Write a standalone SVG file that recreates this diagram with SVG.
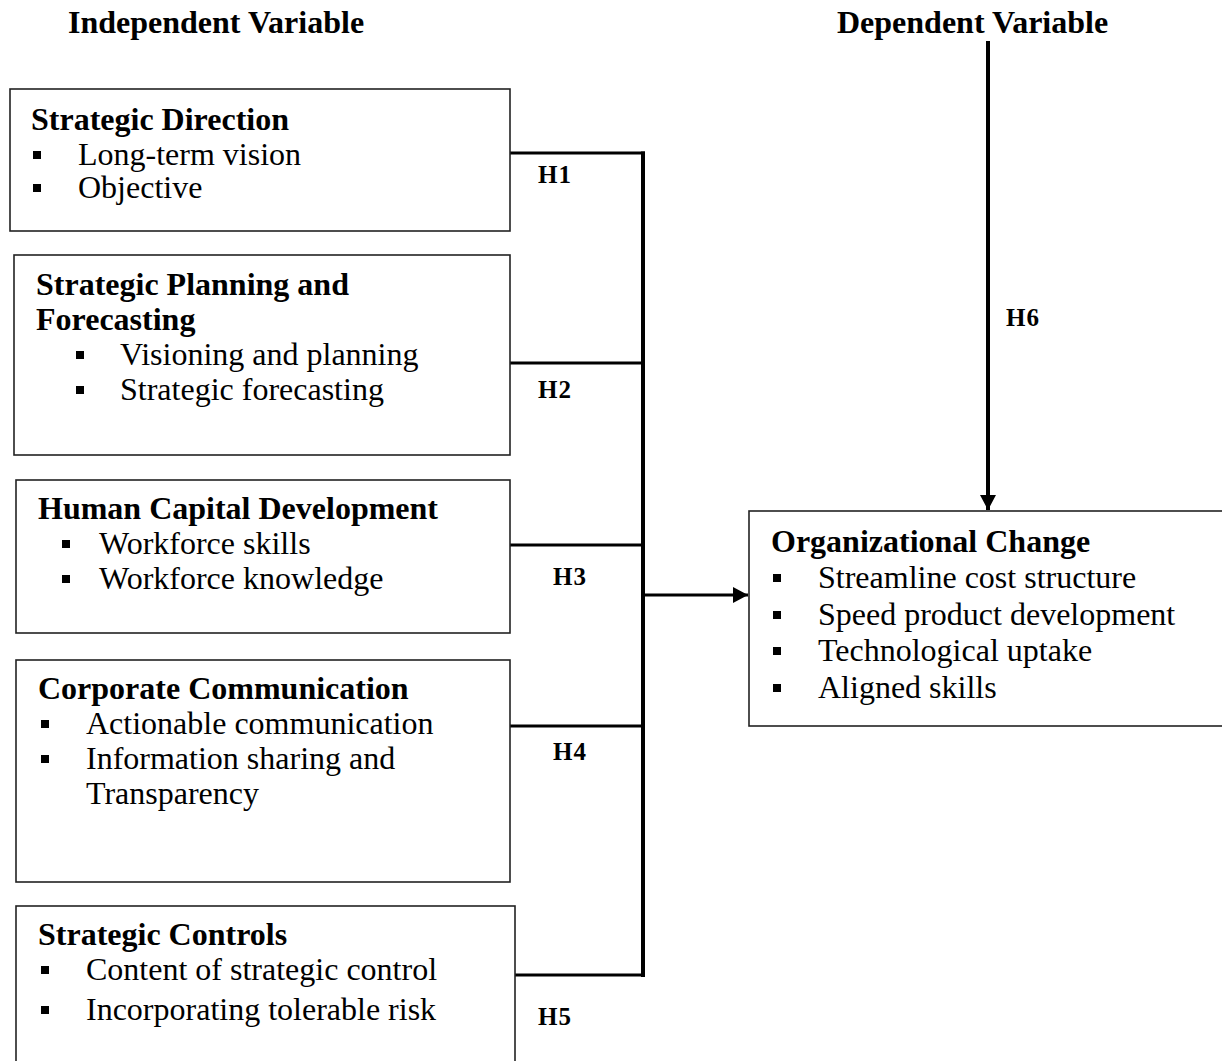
<svg xmlns="http://www.w3.org/2000/svg" width="1222" height="1061" viewBox="0 0 1222 1061">
<style>
.box{fill:#fff;stroke:#222;stroke-width:1.6}
.t{font-family:"Liberation Serif","Times New Roman",serif;font-size:32px;fill:#000}
.b{font-weight:bold}
.h{font-family:"Liberation Serif","Times New Roman",serif;font-size:25px;font-weight:bold;fill:#000;letter-spacing:1px}
.c{stroke:#000;stroke-width:3.2;fill:none}
.tr{stroke:#000;stroke-width:4;fill:none}
.bl{fill:#000}
</style>
<defs>
<marker id="ah" markerWidth="15" markerHeight="16" refX="15" refY="8" orient="auto" markerUnits="userSpaceOnUse" viewBox="0 0 15 16">
<path d="M0,0 L15,8 L0,16 z" fill="#000"/>
</marker>
<rect id="sq" width="8" height="8"/>
</defs>
<rect width="1222" height="1061" fill="#fff"/>
<text class="t b" x="68" y="33">Independent Variable</text>
<text class="t b" x="837" y="33">Dependent Variable</text>

<g id="connectors">
<line class="c" x1="510" y1="153" x2="645" y2="153"/>
<line class="tr" x1="643" y1="151.5" x2="643" y2="977"/>
<line class="c" x1="510" y1="363" x2="643" y2="363"/>
<line class="c" x1="510" y1="545" x2="643" y2="545"/>
<line class="c" x1="510" y1="726" x2="643" y2="726"/>
<line class="c" x1="515" y1="975" x2="645" y2="975"/>
<line class="c" x1="643" y1="595" x2="748" y2="595" marker-end="url(#ah)"/>
<line class="tr" x1="988" y1="41" x2="988" y2="510" marker-end="url(#ah)"/>
<text class="h" x="538" y="183">H1</text>
<text class="h" x="538" y="398">H2</text>
<text class="h" x="553" y="585">H3</text>
<text class="h" x="553" y="760">H4</text>
<text class="h" x="538" y="1025">H5</text>
<text class="h" x="1006" y="326">H6</text>
</g>

<g id="strategic-direction">
<rect class="box" x="10" y="89" width="500" height="142"/>
<text class="t b" x="31" y="130">Strategic Direction</text>
<use href="#sq" class="bl" x="33" y="151"/>
<text class="t" x="78" y="165">Long-term vision</text>
<use href="#sq" class="bl" x="33" y="184"/>
<text class="t" x="78" y="198">Objective</text>
</g>

<g id="strategic-planning">
<rect class="box" x="14" y="255" width="496" height="200"/>
<text class="t b" x="36" y="295">Strategic Planning and</text>
<text class="t b" x="36" y="330">Forecasting</text>
<use href="#sq" class="bl" x="76" y="351"/>
<text class="t" x="120" y="365">Visioning and planning</text>
<use href="#sq" class="bl" x="76" y="386"/>
<text class="t" x="120" y="400">Strategic forecasting</text>
</g>

<g id="human-capital">
<rect class="box" x="16" y="480" width="494" height="153"/>
<text class="t b" x="38" y="519">Human Capital Development</text>
<use href="#sq" class="bl" x="62" y="540"/>
<text class="t" x="99" y="554">Workforce skills</text>
<use href="#sq" class="bl" x="62" y="575"/>
<text class="t" x="99" y="589">Workforce knowledge</text>
</g>

<g id="corporate-communication">
<rect class="box" x="16" y="660" width="494" height="222"/>
<text class="t b" x="38" y="699">Corporate Communication</text>
<use href="#sq" class="bl" x="41" y="720"/>
<text class="t" x="86" y="734">Actionable communication</text>
<use href="#sq" class="bl" x="41" y="755"/>
<text class="t" x="86" y="769">Information sharing and</text>
<text class="t" x="86" y="804">Transparency</text>
</g>

<g id="strategic-controls">
<rect class="box" x="16" y="906" width="499" height="170"/>
<text class="t b" x="38" y="945">Strategic Controls</text>
<use href="#sq" class="bl" x="41" y="966"/>
<text class="t" x="86" y="980">Content of strategic control</text>
<use href="#sq" class="bl" x="41" y="1006"/>
<text class="t" x="86" y="1020">Incorporating tolerable risk</text>
</g>

<g id="organizational-change">
<rect class="box" x="749" y="511" width="490" height="215"/>
<text class="t b" x="771" y="552">Organizational Change</text>
<use href="#sq" class="bl" x="773" y="574"/>
<text class="t" x="818" y="588">Streamline cost structure</text>
<use href="#sq" class="bl" x="773" y="611"/>
<text class="t" x="818" y="625">Speed product development</text>
<use href="#sq" class="bl" x="773" y="647"/>
<text class="t" x="818" y="661">Technological uptake</text>
<use href="#sq" class="bl" x="773" y="684"/>
<text class="t" x="818" y="698">Aligned skills</text>
</g>
</svg>
